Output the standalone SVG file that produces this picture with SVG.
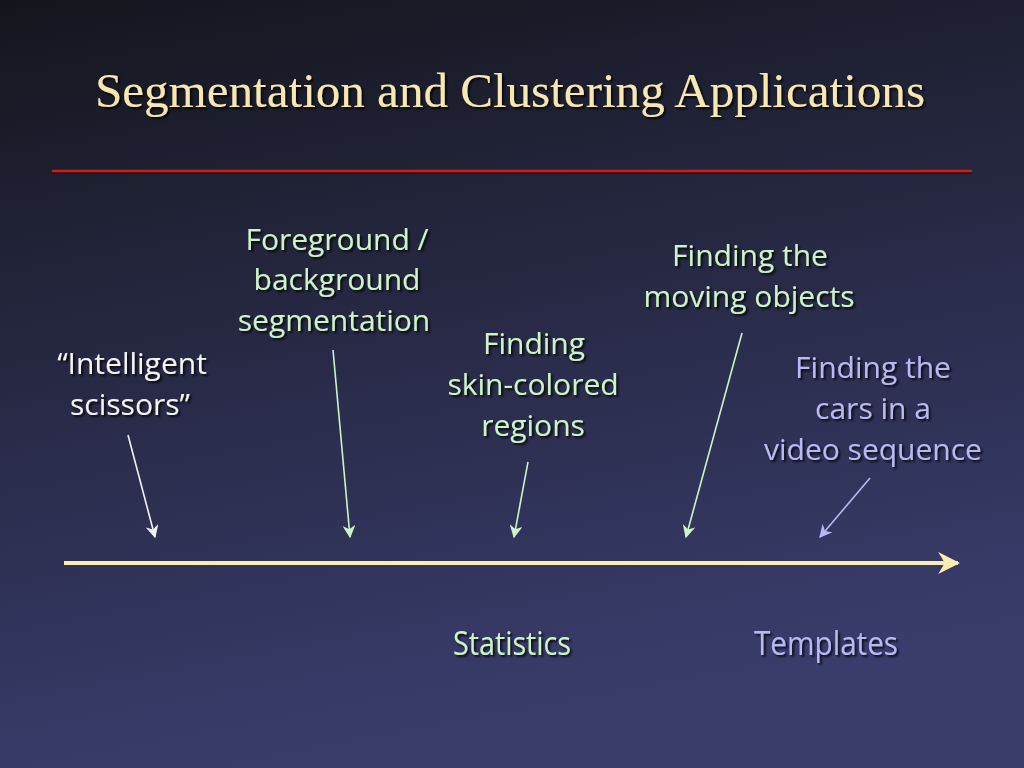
<svg xmlns="http://www.w3.org/2000/svg" width="1024" height="768" viewBox="0 0 1024 768">
<defs>
<linearGradient id="bg" x1="0" y1="0" x2="0.25" y2="1">
<stop offset="0" stop-color="#14151c"/>
<stop offset="0.35" stop-color="#22243a"/>
<stop offset="1" stop-color="#393d6c"/>
</linearGradient>
<marker id="hg" viewBox="0 0 10 10" refX="9" refY="5" markerWidth="13" markerHeight="13" orient="auto" markerUnits="userSpaceOnUse">
<path d="M0,0 L10,5 L0,10 L3,5 Z" fill="#cdf3c6"/>
</marker>
<marker id="hwt" viewBox="0 0 10 10" refX="9" refY="5" markerWidth="13" markerHeight="13" orient="auto" markerUnits="userSpaceOnUse">
<path d="M0,0 L10,5 L0,10 L3,5 Z" fill="#f4f4f4"/>
</marker>
<marker id="hl" viewBox="0 0 10 10" refX="9" refY="5" markerWidth="13" markerHeight="13" orient="auto" markerUnits="userSpaceOnUse">
<path d="M0,0 L10,5 L0,10 L3,5 Z" fill="#b9b9f2"/>
</marker>
<marker id="hy" viewBox="0 0 10 10" refX="9" refY="5" markerWidth="22" markerHeight="22" orient="auto" markerUnits="userSpaceOnUse">
<path d="M0,0 L10,5 L0,10 L3,5 Z" fill="#f8eeb4"/>
</marker>
<filter id="sh" x="-10%" y="-10%" width="120%" height="130%">
<feDropShadow dx="2" dy="2" stdDeviation="1" flood-color="#000" flood-opacity="0.8"/>
</filter>
</defs>
<style>
.lbl{font-family:"Open Sans","Noto Sans","DejaVu Sans",sans-serif;font-size:30px;text-anchor:middle;filter:url(#sh)}
.g{fill:#cdf3c6}
.w{fill:#f4f4f4}
.l{fill:#b9b9f2}
.cond{font-family:"Open Sans","DejaVu Sans",sans-serif;font-size:32px;text-anchor:middle;filter:url(#sh)}
.title{font-family:"Liberation Serif","DejaVu Serif",serif;font-size:48px;fill:#f6e8ae;text-anchor:middle;filter:url(#sh)}
.c{fill:none;stroke-width:1.6}
</style>
<rect width="1024" height="768" fill="url(#bg)"/>
<text class="title" x="510" y="107" textLength="830" lengthAdjust="spacingAndGlyphs">Segmentation and Clustering Applications</text>
<line x1="52" y1="173" x2="972" y2="173" stroke="#3a0a0a" stroke-width="2"/>
<line x1="52" y1="171" x2="972" y2="171" stroke="#c8201c" stroke-width="2.5"/>

<g id="connectors">
<line x1="64" y1="563" x2="958" y2="563" stroke="#f8eeb4" stroke-width="4" marker-end="url(#hy)"/>
<line class="c" x1="128" y1="435" x2="155" y2="537" stroke="#f4f4f4" marker-end="url(#hwt)"/>
<line class="c" x1="333" y1="350" x2="350" y2="537" stroke="#cdf3c6" marker-end="url(#hg)"/>
<line class="c" x1="528" y1="462" x2="514" y2="537" stroke="#cdf3c6" marker-end="url(#hg)"/>
<line class="c" x1="742" y1="333" x2="686" y2="537" stroke="#cdf3c6" marker-end="url(#hg)"/>
<line class="c" x1="870" y1="478" x2="820" y2="537" stroke="#b9b9f2" marker-end="url(#hl)"/>
</g>

<g id="n-scissors">
<text class="lbl w" x="132" y="374">“Intelligent</text>
<text class="lbl w" x="130" y="415">scissors”</text>
</g>
<g id="n-foreground">
<text class="lbl g" x="337" y="250">Foreground /</text>
<text class="lbl g" x="337" y="290">background</text>
<text class="lbl g" x="334" y="331">segmentation</text>
</g>
<g id="n-skin">
<text class="lbl g" x="534" y="354">Finding</text>
<text class="lbl g" x="533" y="395">skin-colored</text>
<text class="lbl g" x="533" y="436">regions</text>
</g>
<g id="n-moving">
<text class="lbl g" x="750" y="266">Finding the</text>
<text class="lbl g" x="749" y="307">moving objects</text>
</g>
<g id="n-cars">
<text class="lbl l" x="873" y="378">Finding the</text>
<text class="lbl l" x="873" y="419">cars in a</text>
<text class="lbl l" x="873" y="460">video sequence</text>
</g>
<g id="n-statistics">
<text class="cond g" x="512" y="655" textLength="118" lengthAdjust="spacingAndGlyphs">Statistics</text>
</g>
<g id="n-templates">
<text class="cond l" x="826" y="655" textLength="144" lengthAdjust="spacingAndGlyphs">Templates</text>
</g>
</svg>
